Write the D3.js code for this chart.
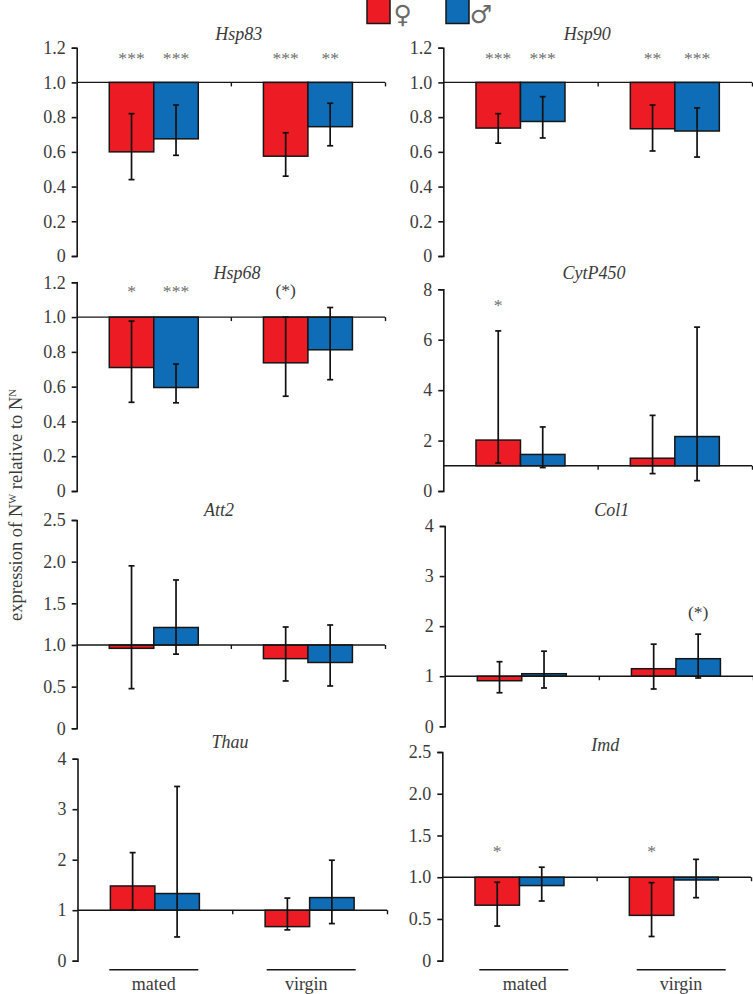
<!DOCTYPE html>
<html><head><meta charset="utf-8">
<script src="https://cdn.jsdelivr.net/npm/d3@7"></script>
<style>html,body{margin:0;padding:0;background:#fff}svg{display:block}</style>
</head><body><svg id="c" width="753" height="994"></svg>
<script>
// ---- data ----
const groups = ["mated", "virgin"];
const sexes = ["female", "male"];
const sexSymbols = ["♀", "♂"];
const genes = ["Hsp83", "Hsp90", "Hsp68", "CytP450", "Att2", "Col1", "Thau", "Imd"];
// order within each gene: mated female, mated male, virgin female, virgin male
const means = [
  [0.60, 0.675, 0.575, 0.745],
  [0.737, 0.775, 0.733, 0.72],
  [0.71, 0.595, 0.737, 0.812],
  [2.02, 1.45, 1.30, 2.16],
  [0.96, 1.21, 0.836, 0.79],
  [0.91, 1.05, 1.15, 1.35],
  [1.48, 1.33, 0.675, 1.25],
  [0.665, 0.90, 0.543, 0.967]
];
const errHigh = [
  [0.82, 0.87, 0.71, 0.88],
  [0.82, 0.918, 0.87, 0.853],
  [0.977, 0.73, 1.0, 1.055],
  [6.35, 2.54, 3.0, 6.5],
  [1.95, 1.78, 1.216, 1.24],
  [1.29, 1.5, 1.64, 1.84],
  [2.14, 3.45, 1.24, 1.99],
  [0.94, 1.12, 0.935, 1.214]
];
const errLow = [
  [0.44, 0.58, 0.46, 0.635],
  [0.65, 0.68, 0.605, 0.57],
  [0.51, 0.507, 0.545, 0.64],
  [1.11, 0.93, 0.69, 0.41],
  [0.476, 0.89, 0.568, 0.508],
  [0.67, 0.765, 0.745, 0.965],
  [1.0, 0.47, 0.61, 0.735],
  [0.415, 0.715, 0.29, 0.755]
];
const marks = [
  ["***", "***", "***", "**"],
  ["***", "***", "**", "***"],
  ["*", "***", "(*)", ""],
  ["*", "", "", ""],
  ["", "", "", ""],
  ["", "", "", "(*)"],
  ["", "", "", ""],
  ["*", "", "*", ""]
];
const markLevels = [1.146, 1.146, 1.155, 7.38, 0, 2.28, 0, 1.317];
const yMax = [1.2, 1.2, 1.2, 8, 2.5, 4, 4, 2.5];
const yBase = [1, 1, 1, 1, 1, 1, 1, 1];
const yTicks = [
  [0, 0.2, 0.4, 0.6, 0.8, 1.0, 1.2],
  [0, 0.2, 0.4, 0.6, 0.8, 1.0, 1.2],
  [0, 0.2, 0.4, 0.6, 0.8, 1.0, 1.2],
  [0, 2, 4, 6, 8],
  [0, 0.5, 1.0, 1.5, 2.0, 2.5],
  [0, 1, 2, 3, 4],
  [0, 1, 2, 3, 4],
  [0, 0.5, 1.0, 1.5, 2.0, 2.5]
];
const yFormats = [".1f", ".1f", ".1f", "d", ".1f", "d", "d", ".1f"];

// ---- layout ----
const axisX  = [76.7, 443.3, 76.7, 443.3, 76.7, 444.7, 77.5, 442.3];
const endX   = [385, 752, 385, 752, 385, 753, 387, 751];
const topY   = [47.7, 47.7, 282.3, 289.3, 520, 526, 758.7, 752];
const zeroY  = [256, 256, 491, 491, 728.3, 726.3, 960.7, 960.7];
const titleX = [238.7, 587.3, 237, 594, 219, 611.7, 230, 605.3];
const titleY = [40, 40, 279, 279, 515.7, 515.7, 748, 750.7];
const barHalf = 44.5;
const serif = "'Liberation Serif', 'Times New Roman', serif";
const ink = "#3b3b3b", edge = "#161616";
const fill = d3.scaleOrdinal(sexes, ["#ed1c24", "#0f6cb6"]);

const svg = d3.select("#c");
svg.append("rect").attr("width", 753).attr("height", 994).attr("fill", "#fff");

genes.forEach((gene, i) => {
  const g = svg.append("g");
  const y = d3.scaleLinear([0, yMax[i]], [zeroY[i], topY[i]]);
  const x0 = d3.scaleBand(groups, [axisX[i], endX[i]]);
  const rows = groups.flatMap((grp, gi) => sexes.map((s, si) => ({
    grp, s, k: gi * 2 + si
  })));
  const cx = grp => x0(grp) + x0.bandwidth() / 2;
  const x1 = grp => d3.scaleBand(sexes, [cx(grp) - barHalf, cx(grp) + barHalf]);
  const base = y(yBase[i]);

  // bars
  g.selectAll("rect.bar").data(rows).join("rect")
    .attr("class", "bar")
    .attr("x", d => x1(d.grp)(d.s))
    .attr("width", d => x1(d.grp).bandwidth())
    .attr("y", d => Math.min(y(means[i][d.k]), base))
    .attr("height", d => Math.abs(y(means[i][d.k]) - base))
    .attr("fill", d => fill(d.s))
    .attr("stroke", edge).attr("stroke-width", 1.5);

  // y axis
  const ya = g.append("g").attr("transform", `translate(${axisX[i]},0)`)
    .call(d3.axisLeft(y).tickValues(yTicks[i]).tickSize(5).tickPadding(6)
      .tickFormat(v => v === 0 ? "0" : d3.format(yFormats[i])(v)));
  ya.selectAll("path,line").attr("stroke", edge).attr("stroke-width", 1.6);
  ya.selectAll("text").attr("font-family", serif).attr("font-size", 18)
    .attr("fill", ink).attr("dy", "0.32em");

  // baseline at 1 with its group ticks
  const bx = d3.scaleLinear([0, groups.length], [axisX[i], endX[i]]);
  const xa = g.append("g").attr("transform", `translate(0,${base})`)
    .call(d3.axisBottom(bx).tickValues([1, 2]).tickSize(4).tickFormat(""));
  xa.selectAll("path").attr("stroke", edge).attr("stroke-width", 1.4).attr("d", `M${axisX[i]},0H${endX[i]}`);
  xa.selectAll("line").attr("stroke", edge).attr("stroke-width", 1.4);

  // error bars
  const ex = d => x1(d.grp)(d.s) + x1(d.grp).bandwidth() / 2;
  const eg = g.selectAll("g.err").data(rows).join("g").attr("class", "err")
    .attr("stroke", "#111").attr("stroke-width", 1.7);
  eg.append("line").attr("x1", ex).attr("x2", ex)
    .attr("y1", d => y(errHigh[i][d.k])).attr("y2", d => y(errLow[i][d.k]));
  [errHigh, errLow].forEach(arr => {
    eg.append("line").attr("x1", d => ex(d) - 3).attr("x2", d => ex(d) + 3)
      .attr("y1", d => y(arr[i][d.k])).attr("y2", d => y(arr[i][d.k]));
  });

  // significance marks
  g.selectAll("text.sig").data(rows.filter(d => marks[i][d.k])).join("text")
    .attr("class", "sig")
    .attr("x", ex)
    .attr("y", d => y(markLevels[i]) + (marks[i][d.k].startsWith("(") ? 6 : 6.5))
    .attr("text-anchor", "middle")
    .attr("font-family", serif).attr("font-size", 17.6)
    .attr("fill", d => marks[i][d.k].startsWith("(") ? ink : "#6e6e6e")
    .text(d => marks[i][d.k]);

  // gene title
  g.append("text").attr("x", titleX[i]).attr("y", titleY[i])
    .attr("text-anchor", "middle").attr("font-family", serif)
    .attr("font-style", "italic").attr("font-size", 18).attr("fill", ink)
    .text(gene);
});

// group labels under the bottom panels
const labelLines = [[109.3, 266.7], [479.3, 636.7]];
const labelCentres = [[153.7, 306.3], [524.7, 681]];
labelLines.forEach((starts, col) => {
  groups.forEach((grp, gi) => {
    svg.append("line").attr("x1", starts[gi]).attr("x2", starts[gi] + 89)
      .attr("y1", 969.7).attr("y2", 969.7)
      .attr("stroke", edge).attr("stroke-width", 1.4);
    svg.append("text").attr("x", labelCentres[col][gi]).attr("y", 990)
      .attr("text-anchor", "middle").attr("font-family", serif)
      .attr("font-size", 18).attr("fill", ink).text(grp);
  });
});

// legend
const legendX = d3.scaleOrdinal(sexes, [367, 446]);
const symbolX = d3.scaleOrdinal(sexes, [402.7, 481]);
sexes.forEach((s, k) => {
  svg.append("rect").attr("x", legendX(s)).attr("y", -2).attr("width", 23).attr("height", 25.5)
    .attr("fill", fill(s)).attr("stroke", edge).attr("stroke-width", 1.5);
  svg.append("text").attr("x", symbolX(s)).attr("y", 22.5)
    .attr("text-anchor", "middle").attr("font-family", "'DejaVu Sans'")
    .attr("font-size", 25).attr("fill", "#6a6a6a").text(sexSymbols[k]);
});

// y label
const yl = svg.append("text")
  .attr("transform", "translate(22,505) rotate(-90)")
  .attr("text-anchor", "middle").attr("font-family", serif)
  .attr("font-size", 18.5).attr("fill", ink);
yl.append("tspan").text("expression of N");
yl.append("tspan").attr("dy", -6).attr("font-size", 10.5).text("W");
yl.append("tspan").attr("dy", 6).text(" relative to N");
yl.append("tspan").attr("dy", -6).attr("font-size", 10.5).text("N");
</script></body></html>
